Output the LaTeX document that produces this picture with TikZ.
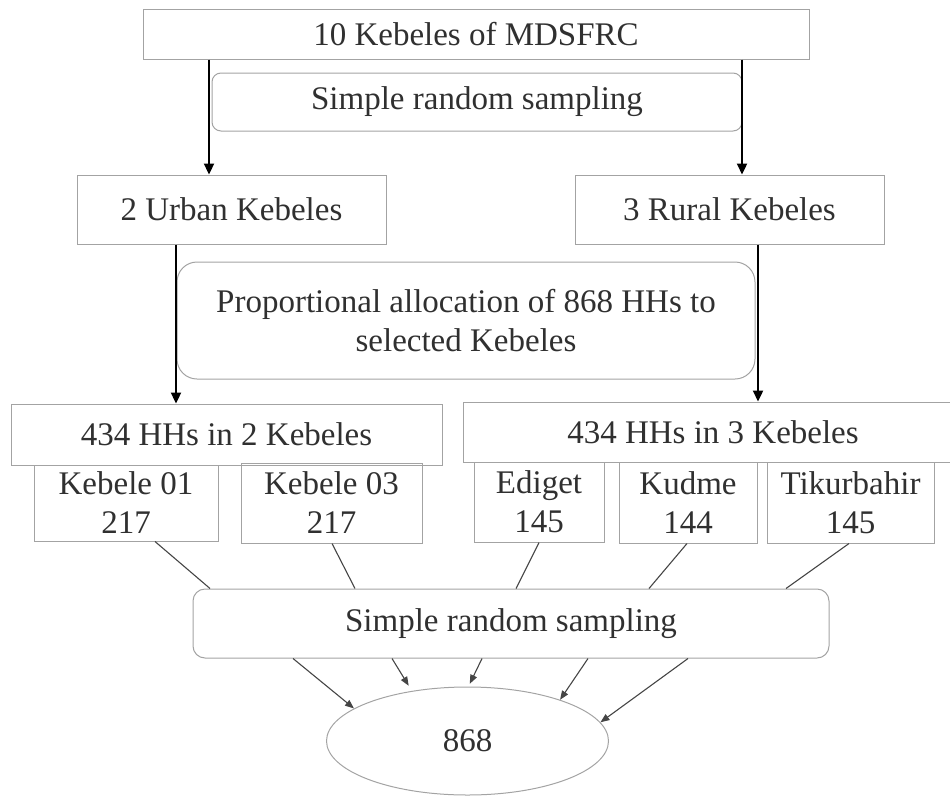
\documentclass[tikz,border=0pt]{standalone}
\usepackage{fontspec}
\setmainfont{Liberation Serif}
\usetikzlibrary{arrows.meta,shapes.geometric}
\definecolor{boxgray}{HTML}{A3A3A3}
\definecolor{txtgray}{HTML}{303030}
\definecolor{lnkgray}{HTML}{454545}

\begin{document}
\begin{tikzpicture}[
  x=1pt, y=-1pt,
  font=\fontsize{33}{39}\selectfont,
  box/.style={draw=boxgray, line width=1pt, inner sep=0pt, align=center, text=txtgray},
  rbox/.style={box, rounded corners=12pt},
  arr/.style={-{Triangle[length=11pt,width=10pt]}, line width=2.3pt},
  link/.style={draw=lnkgray, line width=1.1pt},
  sarr/.style={link, -{Triangle[length=9pt,width=7pt]}}
]
\clip (0,0) rectangle (950,795);
% first stage
\node[box, minimum width=666pt, minimum height=50pt] (all) at (476,34) {10 Kebeles of MDSFRC};
\node[rbox, rounded corners=9pt, minimum width=530pt, minimum height=58pt] (srs1) at (477,102) {Simple random sampling};
\node[box, minimum width=309pt, minimum height=69pt] (urban) at (231.5,209.5) {2 Urban Kebeles};
\node[box, minimum width=309pt, minimum height=69pt] (rural) at (729.5,209.5) {3 Rural Kebeles};
% allocation
\node[rbox, rounded corners=20pt, minimum width=578pt, minimum height=117pt] (prop) at (466,320.5) {Proportional allocation of 868 HHs to\\selected Kebeles};
\node[box, minimum width=431pt, minimum height=61pt] (u434) at (226.5,434.5) {434 HHs in 2 Kebeles};
\node[box, minimum width=500pt, minimum height=60pt] (r434) at (713,432) {434 HHs in 3 Kebeles};
% kebele boxes
\node[box, minimum width=184pt, minimum height=76pt] (k01) at (126,503) {Kebele 01\\217};
\node[box, minimum width=181pt, minimum height=80pt] (k03) at (331.5,503) {Kebele 03\\217};
\node[box, minimum width=130pt, minimum height=80pt] (edi) at (539,502) {Ediget\\145};
\node[box, minimum width=138pt, minimum height=81pt] (kud) at (688,502.5) {Kudme\\144};
\node[box, minimum width=167pt, minimum height=81pt] (tik) at (850.5,502.5) {Tikurbahir\\145};
% second sampling
\node[rbox, minimum width=636pt, minimum height=69pt] (srs2) at (511,623.5) {Simple random sampling};
\node[box, ellipse, minimum width=282pt, minimum height=108pt] (tot) at (467.5,741) {868};

\draw[arr] (all.south -| 209,0) -- (urban.north -| 209,0);
\draw[arr] (all.south -| 742,0) -- (rural.north -| 742,0);
\draw[arr] (urban.south -| 176,0) -- (u434.north -| 176,0);
\draw[arr] (rural.south -| 758,0) -- (r434.north -| 758,0);

\foreach \n/\a/\b in {k01/155/210, k03/332/355, edi/539/516, kud/687/649, tik/849/786}
  \draw[link] (\n.south -| \a,0) -- (srs2.north -| \b,0);
\foreach \a/\ang/\gap in {293/164/0, 392/138/6, 482/89/3, 588/24/0, 688/8/0}
  \draw[sarr, shorten >=\gap pt] (srs2.south -| \a,0) -- (tot.\ang);
\end{tikzpicture}
\end{document}
